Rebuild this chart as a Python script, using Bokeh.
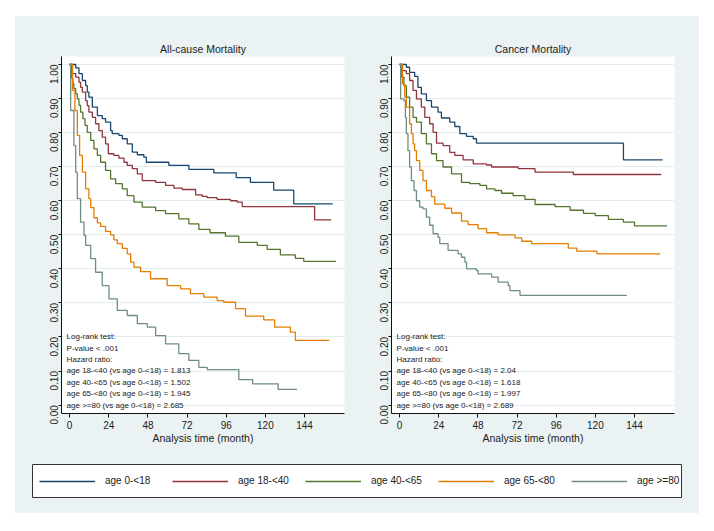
import math
from bokeh.plotting import figure
from bokeh.models import (Range1d, FixedTicker, NumeralTickFormatter, Legend, LegendItem)
from bokeh.layouts import column, row
from bokeh.core.properties import value
from bokeh.embed import file_html
from bokeh.resources import INLINE

# ---------------- data ----------------
groups = ["age 0-<18", "age 18-<40", "age 40-<65", "age 65-<80", "age >=80"]
colors = ["#1A476F", "#90353B", "#55752F", "#E37E00", "#6E8E84"]
x_ticks = [0, 24, 48, 72, 96, 120, 144]
y_ticks = [0.0, 0.1, 0.2, 0.3, 0.4, 0.5, 0.6, 0.7, 0.8, 0.9, 1.0]

# All-cause mortality (months, survival)
all_t_0_18 = [0, 3.7, 5.7, 7.8, 9.8, 10.8, 11.8, 13.9, 17.0, 20.0, 22.0, 25.1, 26.1, 30.2, 32.3, 35.3, 38.4, 41.5, 45.5, 47.0, 60.8, 73.1, 88.4, 102.1, 110.8, 125.1, 137.4, 161.2]
all_s_0_18 = [1.0, 0.99, 0.973, 0.953, 0.938, 0.919, 0.904, 0.875, 0.85, 0.841, 0.831, 0.806, 0.797, 0.792, 0.782, 0.767, 0.743, 0.735, 0.728, 0.713, 0.704, 0.692, 0.682, 0.668, 0.654, 0.631, 0.591, 0.591]
all_t_18_40 = [0, 1.7, 3.7, 5.7, 6.7, 7.8, 9.8, 10.8, 11.8, 13.9, 15.9, 17.9, 20.0, 22.0, 23.7, 27.1, 30.2, 33.3, 35.3, 38.4, 41.5, 44.5, 52.7, 58.8, 63.9, 69.0, 77.2, 81.3, 84.3, 90.4, 98.6, 102.7, 105.8, 150.2, 160.4]
all_s_18_40 = [1.0, 0.973, 0.963, 0.948, 0.933, 0.919, 0.894, 0.879, 0.86, 0.845, 0.826, 0.806, 0.787, 0.767, 0.738, 0.733, 0.725, 0.713, 0.704, 0.694, 0.679, 0.659, 0.654, 0.645, 0.637, 0.633, 0.617, 0.613, 0.609, 0.604, 0.60, 0.596, 0.583, 0.544, 0.544]
all_t_40_65 = [0, 1.2, 2.0, 2.6, 3.7, 4.7, 5.7, 6.7, 8.1, 9.4, 10.8, 12.9, 14.9, 17.0, 19.0, 22.0, 25.1, 28.2, 32.3, 35.3, 39.4, 44.5, 52.7, 58.8, 66.9, 73.1, 79.2, 86.1, 95.5, 103.7, 115.0, 121.1, 129.2, 138.4, 143.5, 163.3]
all_s_40_65 = [1.0, 0.96, 0.943, 0.929, 0.914, 0.899, 0.88, 0.86, 0.841, 0.821, 0.801, 0.777, 0.752, 0.733, 0.713, 0.689, 0.664, 0.65, 0.635, 0.615, 0.596, 0.581, 0.571, 0.562, 0.547, 0.532, 0.516, 0.506, 0.496, 0.478, 0.469, 0.457, 0.441, 0.431, 0.422, 0.422]
all_t_65_80 = [0, 1.7, 3.2, 4.7, 6.1, 7.8, 9.8, 11.8, 12.9, 14.9, 17.0, 19.0, 22.0, 25.1, 27.1, 29.2, 32.3, 35.3, 37.4, 39.4, 43.5, 49.6, 59.8, 68.0, 74.1, 82.2, 90.4, 94.5, 101.7, 107.8, 119.0, 125.7, 135.3, 138.4, 159.2]
all_s_65_80 = [1.0, 0.924, 0.865, 0.792, 0.733, 0.684, 0.635, 0.606, 0.58, 0.55, 0.535, 0.525, 0.51, 0.50, 0.485, 0.474, 0.46, 0.444, 0.42, 0.405, 0.392, 0.371, 0.351, 0.341, 0.327, 0.317, 0.307, 0.302, 0.283, 0.261, 0.25, 0.229, 0.214, 0.19, 0.19]
all_t_80 = [0, 0.6, 2.6, 3.7, 4.7, 6.7, 8.8, 9.8, 12.9, 15.9, 20.0, 24.1, 29.2, 35.3, 41.5, 47.6, 52.7, 58.8, 66.9, 73.1, 79.2, 84.3, 103.7, 112.2, 127.8, 139.4]
all_s_80 = [1.0, 0.865, 0.762, 0.684, 0.606, 0.537, 0.498, 0.469, 0.43, 0.39, 0.351, 0.312, 0.278, 0.263, 0.239, 0.229, 0.204, 0.18, 0.151, 0.131, 0.111, 0.104, 0.075, 0.0625, 0.046, 0.046]

# Cancer mortality
can_t_0_18 = [0, 4.1, 6.1, 9.2, 11.2, 13.3, 16.4, 19.5, 23.5, 25.6, 30.7, 33.8, 36.9, 41.0, 45.1, 47.1, 137.2, 161.2]
can_s_0_18 = [1.0, 0.992, 0.977, 0.965, 0.933, 0.914, 0.894, 0.875, 0.86, 0.843, 0.831, 0.818, 0.797, 0.789, 0.782, 0.769, 0.72, 0.72]
can_t_18_40 = [0, 1.7, 4.1, 6.1, 8.2, 10.3, 13.3, 15.4, 18.4, 20.5, 22.6, 26.6, 30.7, 33.8, 38.9, 45.1, 53.3, 56.4, 72.7, 83.0, 106.5, 160.4]
can_s_18_40 = [1.0, 0.982, 0.973, 0.953, 0.924, 0.899, 0.875, 0.845, 0.826, 0.801, 0.769, 0.762, 0.742, 0.733, 0.72, 0.708, 0.705, 0.699, 0.694, 0.684, 0.677, 0.677]
can_t_40_65 = [0, 1.0, 2.6, 4.1, 6.1, 8.2, 10.3, 13.3, 16.4, 19.5, 22.6, 26.6, 31.8, 37.9, 43.0, 49.2, 53.3, 58.4, 62.5, 69.6, 76.8, 83.0, 95.3, 104.5, 112.7, 119.9, 128.0, 137.2, 144.0, 163.9]
can_s_40_65 = [1.0, 0.963, 0.938, 0.904, 0.875, 0.845, 0.831, 0.797, 0.767, 0.738, 0.718, 0.699, 0.679, 0.654, 0.65, 0.645, 0.635, 0.63, 0.622, 0.615, 0.604, 0.589, 0.583, 0.572, 0.563, 0.556, 0.545, 0.537, 0.526, 0.526]
can_t_65_80 = [0, 1.7, 3.1, 4.1, 6.1, 7.2, 8.2, 9.2, 10.3, 12.3, 14.3, 16.4, 19.5, 21.5, 27.7, 31.8, 37.9, 42.0, 48.1, 53.3, 60.4, 70.7, 74.8, 80.9, 103.4, 108.6, 120.9, 159.8]
can_s_65_80 = [1.0, 0.943, 0.904, 0.875, 0.826, 0.797, 0.767, 0.747, 0.718, 0.689, 0.659, 0.63, 0.612, 0.59, 0.578, 0.564, 0.54, 0.53, 0.518, 0.506, 0.5, 0.491, 0.481, 0.474, 0.461, 0.452, 0.444, 0.444]
can_t_80 = [0, 0.6, 2.6, 3.5, 4.1, 5.1, 6.1, 7.2, 8.8, 10.3, 12.3, 14.3, 16.4, 18.4, 20.5, 23.5, 24.6, 29.7, 35.8, 37.9, 40.0, 41.0, 47.1, 48.1, 56.4, 60.4, 66.6, 67.6, 73.8, 139.3]
can_s_80 = [1.0, 0.899, 0.894, 0.845, 0.797, 0.747, 0.699, 0.659, 0.63, 0.60, 0.581, 0.576, 0.552, 0.528, 0.503, 0.493, 0.474, 0.454, 0.444, 0.434, 0.42, 0.40, 0.395, 0.385, 0.376, 0.361, 0.351, 0.336, 0.322, 0.322]

all_notes = ["Log-rank test:", "P-value < .001", "Hazard ratio:",
             "age 18-<40 (vs age 0-<18) = 1.813", "age 40-<65 (vs age 0-<18) = 1.502",
             "age 65-<80 (vs age 0-<18) = 1.945", "age >=80 (vs age 0-<18) = 2.685"]
can_notes = ["Log-rank test:", "P-value < .001", "Hazard ratio:",
             "age 18-<40 (vs age 0-<18) = 2.04", "age 40-<65 (vs age 0-<18) = 1.618",
             "age 65-<80 (vs age 0-<18) = 1.997", "age >=80 (vs age 0-<18) = 2.689"]

all_curves = [(all_t_0_18, all_s_0_18), (all_t_18_40, all_s_18_40), (all_t_40_65, all_s_40_65),
              (all_t_65_80, all_s_65_80), (all_t_80, all_s_80)]
can_curves = [(can_t_0_18, can_s_0_18), (can_t_18_40, can_s_18_40), (can_t_40_65, can_s_40_65),
              (can_t_65_80, can_s_65_80), (can_t_80, can_s_80)]

FONT = "Liberation Sans"
BG = "#EAF2F3"
GRID = "#E3ECEE"


def make_panel(title, curves, notes, border_left, border_right):
    p = figure(frame_width=283, frame_height=357,
               min_border_left=border_left, min_border_right=border_right,
               min_border_top=40, min_border_bottom=39,
               x_range=Range1d(-5.0, 168.5), y_range=Range1d(-0.0247, 1.0235),
               output_backend="svg", toolbar_location=None)
    p.border_fill_color = BG
    p.background_fill_color = "white"
    p.outline_line_color = None
    p.title.text = title
    p.title.align = "center"
    p.title.text_font = FONT
    p.title.text_font_style = "normal"
    p.title.text_font_size = "10.5px"
    p.title.text_color = "#222222"
    p.title.standoff = 3

    p.xgrid.visible = False
    p.ygrid.ticker = FixedTicker(ticks=y_ticks)
    p.ygrid.grid_line_color = GRID
    p.ygrid.grid_line_width = 1.2

    xa = p.xaxis[0]
    xa.ticker = FixedTicker(ticks=x_ticks)
    xa.axis_label = "Analysis time (month)"
    xa.axis_label_text_font = FONT
    xa.axis_label_text_font_style = "normal"
    xa.axis_label_text_font_size = "10.5px"
    xa.axis_label_text_color = "#222222"
    xa.axis_label_standoff = 0
    xa.major_label_text_font = FONT
    xa.major_label_text_font_size = "10px"
    xa.major_label_text_color = "#222222"
    xa.major_label_standoff = 3
    xa.major_tick_out = 4
    xa.major_tick_in = 0
    xa.minor_tick_out = 0
    xa.axis_line_color = "#111111"
    xa.major_tick_line_color = "#111111"

    ya = p.yaxis[0]
    ya.ticker = FixedTicker(ticks=y_ticks)
    ya.formatter = NumeralTickFormatter(format="0.00")
    ya.major_label_orientation = math.pi / 2
    ya.major_label_text_font = FONT
    ya.major_label_text_font_size = "10px"
    ya.major_label_text_color = "#222222"
    ya.major_label_standoff = 4
    ya.major_tick_out = 3
    ya.major_tick_in = 0
    ya.minor_tick_out = 0
    ya.axis_line_color = "#111111"
    ya.major_tick_line_color = "#111111"

    for (t, s), c in zip(curves, colors):
        p.step(t, s, mode="after", line_color=c, line_width=1.3)

    n = len(notes)
    ys = [0.201 - i * 0.0335 for i in range(n)]
    p.text(x=[-1.9] * n, y=ys, text=notes, text_font=value(FONT),
           text_font_size="8px", text_color="#222222",
           text_baseline="middle", text_align="left")
    return p


p1 = make_panel("All-cause Mortality", all_curves, all_notes, 46, 13)
p2 = make_panel("Cancer Mortality", can_curves, can_notes, 34, 24)

# legend panel (its frame is the legend box)
pl = figure(frame_width=649, frame_height=33,
            min_border_left=17, min_border_right=18, min_border_top=12, min_border_bottom=16,
            x_range=Range1d(0, 1), y_range=Range1d(0, 1),
            x_axis_type=None, y_axis_type=None,
            output_backend="svg", toolbar_location=None)
pl.border_fill_color = BG
pl.background_fill_color = "white"
pl.outline_line_color = "#333333"
pl.outline_line_width = 1
pl.xgrid.visible = False
pl.ygrid.visible = False
items = []
for g, c in zip(groups, colors):
    # off-screen stand-in renderer, only used for the legend swatch
    r = pl.line(x=[-2, -1], y=[-2, -1], line_color=c, line_width=1.3)
    items.append(LegendItem(label=g, renderers=[r]))
leg = Legend(items=items, orientation="horizontal", location="left",
             glyph_width=56, glyph_height=14, label_standoff=10, label_width=67,
             spacing=0, padding=0, margin=7,
             border_line_color=None, background_fill_alpha=0,
             label_text_font=FONT, label_text_font_size="10px", label_text_color="#222222")
pl.add_layout(leg)

layout = column(row(p1, p2), pl, margin=(16, 0, 0, 15),
                styles={"background-color": BG})

open("out.html", "w").write(file_html(layout, INLINE))
